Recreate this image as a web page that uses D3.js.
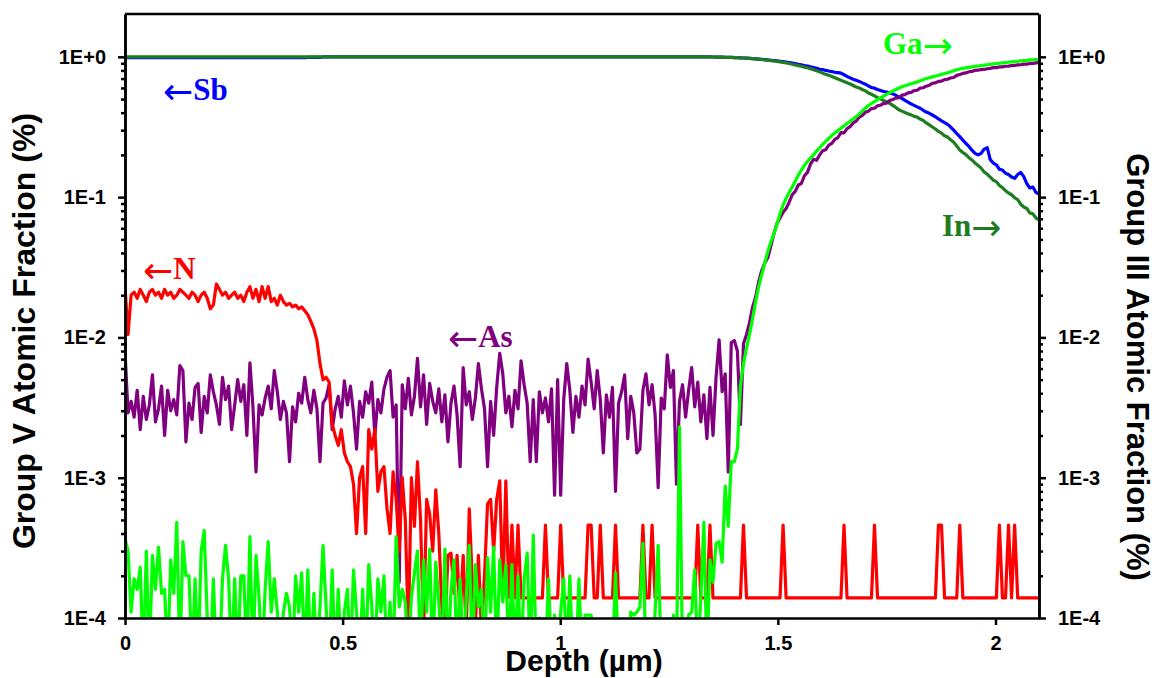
<!DOCTYPE html>
<html>
<head>
<meta charset="utf-8">
<script src="https://cdn.jsdelivr.net/npm/d3@7"></script>
<style>
  body { margin: 0; background: #fff; }
  svg { display: block; }
</style>
</head>
<body>
<svg id="chart" width="1156" height="678"></svg>
<script>
// SIMS depth profile: group V (Sb, As, N) and group III (In, Ga) atomic fractions.
// All series are sampled on the same depth grid, one value every depthStep µm from 0 to 2.1 µm.
const depthStep = 0.007;

const sbFraction = [
  0.985,0.985,0.985,0.985,0.985,0.985,0.985,0.985,0.985,0.985,0.985,0.985,0.985,0.985,0.985,0.985,0.985,0.985,0.985,0.985,
  0.985,0.985,0.985,0.985,0.985,0.985,0.985,0.985,0.985,0.985,0.985,0.985,0.985,0.985,0.985,0.985,0.985,0.985,0.985,0.985,
  0.985,0.985,0.985,0.985,0.985,0.985,0.985,0.985,0.985,0.985,0.985,0.985,0.985,0.985,0.985,0.985,0.985,0.985,0.985,0.985,
  0.99,0.99,0.99,0.99,0.99,1,1,1,1,1,1,1,1,1,1,1,1,1,1,1,
  1,1,1,1,1,1,1,1,1,1,1,1,1,1,1,1,1,1,1,1,
  1,1,1,1,1,1,1,1,1,1,1,1,1,1,1,1,1,1,1,1,
  1,1,1,1,1,1,1,1,1,1,1,1,1,1,1,1,1,1,1,1,
  1,1,1,1,1,1,1,1,1,1,1,1,1,1,1,1,1,1,1,1,
  1,1,1,1,1,1,1,1,1,1,1,1,1,1,1,1,1,1,1,1,
  1,1,1,1,1,1,1,1,1,1,1,1,0.998,0.997,0.996,0.995,0.994,0.993,0.991,0.99,
  0.988,0.986,0.984,0.981,0.978,0.975,0.972,0.968,0.964,0.96,0.955,0.95,0.945,0.94,0.935,0.93,0.925,0.918,0.91,0.902,
  0.895,0.885,0.878,0.868,0.86,0.85,0.84,0.828,0.815,0.81,0.8,0.792,0.785,0.776,0.772,0.765,0.745,0.725,0.708,0.692,
  0.68,0.668,0.652,0.638,0.62,0.605,0.598,0.585,0.576,0.566,0.56,0.553,0.545,0.532,0.516,0.506,0.49,0.476,0.462,0.451,
  0.44,0.43,0.416,0.404,0.396,0.385,0.374,0.361,0.35,0.34,0.33,0.316,0.3,0.284,0.27,0.255,0.242,0.23,0.216,0.205,
  0.2,0.205,0.22,0.225,0.185,0.175,0.17,0.158,0.156,0.148,0.145,0.139,0.136,0.145,0.15,0.14,0.125,0.116,0.118,0.108,
  0.105
];

const inFraction = [
  1,1,1,1,1,1,1,1,1,1,1,1,1,1,1,1,1,1,1,1,
  1,1,1,1,1,1,1,1,1,1,1,1,1,1,1,1,1,1,1,1,
  1,1,1,1,1,1,1,1,1,1,1,1,1,1,1,1,1,1,1,1,
  1,1,1,1,1,1,1,1,1,1,1,1,1,1,1,1,1,1,1,1,
  1,1,1,1,1,1,1,1,1,1,1,1,1,1,1,1,1,1,1,1,
  1,1,1,1,1,1,1,1,1,1,1,1,1,1,1,1,1,1,1,1,
  1,1,1,1,1,1,1,1,1,1,1,1,1,1,1,1,1,1,1,1,
  1,1,1,1,1,1,1,1,1,1,1,1,1,1,1,1,1,1,1,1,
  1,1,1,1,1,1,1,1,1,1,1,1,1,1,1,1,1,1,1,1,
  1,1,1,1,1,1,1,1,1,1,1,1,0.998,0.997,0.996,0.995,0.994,0.993,0.991,0.99,
  0.988,0.986,0.984,0.981,0.978,0.975,0.971,0.967,0.962,0.957,0.952,0.946,0.94,0.934,0.928,0.92,0.913,0.905,0.896,0.886,
  0.876,0.866,0.857,0.845,0.836,0.824,0.81,0.797,0.782,0.765,0.75,0.738,0.724,0.71,0.695,0.682,0.666,0.654,0.64,0.625,
  0.61,0.6,0.585,0.572,0.553,0.541,0.527,0.512,0.502,0.488,0.477,0.466,0.451,0.436,0.42,0.41,0.401,0.392,0.386,0.377,
  0.372,0.36,0.352,0.338,0.327,0.316,0.306,0.294,0.286,0.274,0.268,0.256,0.246,0.231,0.217,0.208,0.201,0.191,0.184,0.175,
  0.168,0.161,0.151,0.146,0.139,0.132,0.129,0.121,0.117,0.111,0.107,0.104,0.099,0.096,0.089,0.085,0.083,0.077,0.076,0.071,
  0.069
];

const asFraction = [
  0.0079,0.0029,0.0035,0.0027,0.0042,0.0022,0.0038,0.0026,0.0033,0.0054,0.0025,0.0031,0.0045,0.002,0.0042,0.003,0.0036,0.0028,0.0063,0.0058,
  0.0018,0.0034,0.0026,0.0044,0.0047,0.0021,0.0038,0.0029,0.0054,0.0041,0.0033,0.0024,0.0052,0.0036,0.0045,0.0022,0.0033,0.005,0.0035,0.0046,
  0.002,0.0066,0.0032,0.0011,0.0033,0.0028,0.0037,0.0045,0.0031,0.0058,0.0041,0.0026,0.0035,0.0029,0.0013,0.0032,0.0025,0.004,0.0034,0.0052,
  0.0036,0.0029,0.0042,0.0031,0.0013,0.0034,0.0037,0.0046,0.0022,0.0031,0.0038,0.0027,0.0049,0.0033,0.0045,0.0029,0.0016,0.0035,0.0027,0.0041,
  0.0034,0.0048,0.002,0.0036,0.0029,0.0043,0.0052,0.0058,0.0027,0.0033,0.00018,0.0046,0.0031,0.0051,0.0028,0.0038,0.0071,0.0032,0.0054,0.0024,
  0.0047,0.0035,0.0029,0.0043,0.0025,0.0039,0.0018,0.0034,0.0045,0.0028,0.0012,0.0061,0.0033,0.0041,0.0026,0.0037,0.0065,0.0043,0.0031,0.0012,
  0.0035,0.002,0.0044,0.0077,0.0055,0.0029,0.0038,0.0023,0.0042,0.0031,0.0068,0.0046,0.0034,0.0013,0.0036,0.0013,0.0041,0.0029,0.0037,0.0025,
  0.0043,0.00075,0.005,0.00075,0.0036,0.0065,0.0042,0.0021,0.0038,0.0027,0.0045,0.0033,0.007,0.0048,0.0031,0.0058,0.0036,0.0015,0.0039,0.0027,
  0.0044,0.0008,0.0034,0.0041,0.0054,0.0019,0.0038,0.0029,0.0015,0.0016,0.0042,0.0055,0.0033,0.0046,0.0028,0.00085,0.0037,0.0031,0.0075,0.0044,
  0.0058,0.0009,0.0035,0.0046,0.0027,0.0042,0.0061,0.0032,0.0048,0.0025,0.0039,0.0019,0.0044,0.002,0.0052,0.0096,0.0041,0.0055,0.0011,0.0092,
  0.0095,0.008,0.0024,0.009,0.0105,0.0128,0.0165,0.0194,0.025,0.03,0.034,0.037,0.045,0.055,0.065,0.071,0.078,0.083,0.092,0.104,
  0.11,0.122,0.125,0.142,0.15,0.172,0.186,0.183,0.2,0.214,0.218,0.235,0.242,0.258,0.266,0.288,0.287,0.308,0.318,0.338,
  0.348,0.372,0.382,0.402,0.41,0.428,0.43,0.448,0.452,0.465,0.468,0.488,0.497,0.508,0.512,0.533,0.538,0.553,0.558,0.575,
  0.578,0.598,0.602,0.618,0.628,0.648,0.652,0.668,0.672,0.688,0.692,0.708,0.712,0.738,0.748,0.762,0.768,0.783,0.787,0.802,
  0.803,0.812,0.813,0.822,0.828,0.837,0.838,0.847,0.848,0.857,0.858,0.867,0.868,0.877,0.878,0.887,0.888,0.897,0.898,0.906,
  0.91
];

// Values under 1E-4 (no counts) fall below the axis and are clipped away.
const nFraction = [
  0.023,0.0105,0.02,0.021,0.019,0.022,0.02,0.018,0.021,0.022,0.02,0.021,0.019,0.022,0.02,0.021,0.019,0.02,0.022,0.021,
  0.02,0.019,0.021,0.02,0.018,0.02,0.021,0.019,0.016,0.017,0.024,0.022,0.02,0.021,0.019,0.02,0.021,0.019,0.02,0.018,
  0.021,0.023,0.019,0.022,0.018,0.023,0.019,0.023,0.018,0.019,0.017,0.02,0.018,0.017,0.0175,0.0165,0.017,0.016,0.0165,0.0155,
  0.0145,0.013,0.0115,0.0095,0.0065,0.005,0.0052,0.0048,0.0024,0.002,0.0017,0.0022,0.0015,0.0013,0.0012,0.0009,0.0004,0.001,0.0012,0.0004,
  0.0022,0.0016,0.0022,0.0008,0.0011,0.0012,0.0006,0.0004,0.0011,0.0007,0.0003,0.001,0.0005,0.00008,0.001,0.00045,0.0013,0.0005,0.00008,0.0007,
  0.00055,0.0003,0.00082,0.0004,0.00012,0.00008,0.00028,0.00029,0.00015,0.00028,0.0001,0.00028,0.00008,0.0006,0.00018,0.00009,0.00028,0.00008,0.0002,0.00065,
  0.0007,0.0003,0.0007,0.00095,0.00014,0.00095,0.00014,4.6e-4,1.39e-4,4.6e-4,1.39e-4,1.39e-4,1.39e-4,1.39e-4,1.39e-4,1.39e-4,1.39e-4,1.39e-4,4.6e-4,1.39e-4,
  1.39e-4,1.39e-4,1.39e-4,4.6e-4,1.39e-4,1.39e-4,1.39e-4,1.39e-4,1.39e-4,1.39e-4,1.39e-4,1.39e-4,4.6e-4,4.6e-4,1.39e-4,1.39e-4,4.6e-4,1.39e-4,1.39e-4,1.39e-4,
  1.39e-4,4.6e-4,1.39e-4,1.39e-4,1.39e-4,1.39e-4,1.39e-4,1.39e-4,1.39e-4,1.39e-4,4.6e-4,1.39e-4,1.39e-4,4.6e-4,1.39e-4,1.39e-4,1.39e-4,1.39e-4,1.39e-4,1.39e-4,
  1.39e-4,1.39e-4,1.39e-4,1.39e-4,1.39e-4,1.39e-4,1.39e-4,1.39e-4,4.6e-4,1.39e-4,1.39e-4,1.39e-4,4.6e-4,1.39e-4,1.39e-4,1.39e-4,1.39e-4,1.39e-4,1.39e-4,1.39e-4,
  1.39e-4,1.39e-4,1.39e-4,4.6e-4,1.39e-4,1.39e-4,1.39e-4,1.39e-4,1.39e-4,1.39e-4,1.39e-4,1.39e-4,1.39e-4,1.39e-4,1.39e-4,1.39e-4,4.6e-4,1.39e-4,1.39e-4,1.39e-4,
  1.39e-4,1.39e-4,1.39e-4,1.39e-4,1.39e-4,1.39e-4,1.39e-4,1.39e-4,1.39e-4,1.39e-4,1.39e-4,1.39e-4,1.39e-4,1.39e-4,1.39e-4,1.39e-4,4.6e-4,1.39e-4,1.39e-4,1.39e-4,
  1.39e-4,1.39e-4,1.39e-4,1.39e-4,1.39e-4,1.39e-4,4.6e-4,1.39e-4,1.39e-4,1.39e-4,1.39e-4,1.39e-4,1.39e-4,1.39e-4,1.39e-4,1.39e-4,1.39e-4,1.39e-4,1.39e-4,1.39e-4,
  1.39e-4,1.39e-4,1.39e-4,1.39e-4,1.39e-4,1.39e-4,1.39e-4,4.6e-4,4.6e-4,1.39e-4,1.39e-4,1.39e-4,1.39e-4,1.39e-4,4.6e-4,1.39e-4,1.39e-4,1.39e-4,1.39e-4,1.39e-4,
  1.39e-4,1.39e-4,1.39e-4,1.39e-4,1.39e-4,1.39e-4,1.39e-4,4.6e-4,1.39e-4,1.39e-4,4.6e-4,1.39e-4,4.6e-4,1.39e-4,1.39e-4,1.39e-4,1.39e-4,1.39e-4,1.39e-4,1.39e-4,
  1.39e-4
];

const gaFraction = [
  3.7e-4,3.0e-4,1.1e-4,1.9e-4,1.6e-4,2.3e-4,5e-5,3e-4,5e-5,2.8e-4,1.6e-4,3.2e-4,1.5e-4,1.6e-4,5e-5,2.6e-4,1.5e-4,4.8e-4,5e-5,3.5e-4,
  2e-4,2e-4,5e-5,1.9e-4,5e-5,3e-4,4.2e-4,1e-4,5e-5,1.9e-4,5e-5,5e-5,1.9e-4,3.3e-4,1.9e-4,5e-5,1.9e-4,5e-5,2e-4,2e-4,
  5e-5,3.8e-4,5e-5,2.8e-4,1.4e-4,5e-5,1.6e-4,3.5e-4,1.1e-4,1.9e-4,1.1e-4,5e-5,1.1e-4,1.5e-4,1.2e-4,5e-5,2e-4,1.1e-4,2.1e-4,5e-5,
  2.2e-4,5e-5,1.5e-4,5e-5,1.2e-4,3.3e-4,1.2e-4,5e-5,2.2e-4,5e-5,1.6e-4,5e-5,1.1e-4,1.6e-4,5e-5,2.2e-4,1.1e-4,5e-5,1.6e-4,5e-5,
  2.4e-4,1.2e-4,5e-5,1.9e-4,1.1e-4,2e-4,5e-5,1.3e-4,5e-5,3.8e-4,1.2e-4,1.6e-4,1.3e-4,5e-5,1.4e-4,2.1e-4,3e-4,5e-5,2.6e-4,1.1e-4,
  3.1e-4,5e-5,2.5e-4,1.3e-4,5e-5,3.1e-4,5e-5,1.6e-4,2.6e-4,5e-5,1.9e-4,5e-5,1.4e-4,3.3e-4,5e-5,2.4e-4,1.2e-4,1.6e-4,5e-5,2.7e-4,
  1.1e-4,3.2e-4,5e-5,2.6e-4,1.3e-4,2.4e-4,5e-5,2.4e-4,5e-5,2e-4,5e-5,1.9e-4,2.9e-4,5e-5,3.9e-4,5e-5,1e-4,5e-5,5e-5,1.9e-4,
  5e-5,1.05e-4,5e-5,1.1e-4,1.9e-4,5e-5,2e-4,5e-5,5e-5,1.9e-4,5e-5,1.05e-4,1.05e-4,1.05e-4,5e-5,5e-5,5e-5,5e-5,5e-5,5e-5,
  5e-5,2.1e-4,5e-5,5e-5,5e-5,5e-5,1.1e-4,1.05e-4,1.1e-4,1.2e-4,3.4e-4,5e-5,5e-5,5e-5,1.1e-4,3.3e-4,5e-5,5e-5,5e-5,5e-5,
  1.05e-4,5e-5,2.3e-3,5e-5,5e-5,1.05e-4,1.1e-4,2.2e-4,5e-5,1.4e-4,4.8e-4,5e-5,2.6e-4,1.8e-4,3.4e-4,3.5e-4,2.5e-4,8.7e-4,4.5e-4,1.3e-3,
  1.3e-3,1.6e-3,4.5e-3,6.5e-3,8.4e-3,1.05e-2,1.37e-2,1.8e-2,2.3e-2,2.8e-2,3.4e-2,4.1e-2,4.8e-2,5.5e-2,6.4e-2,7.6e-2,8.8e-2,9.8e-2,0.108,0.118,
  0.13,0.143,0.156,0.168,0.18,0.19,0.2,0.213,0.225,0.238,0.25,0.262,0.275,0.287,0.298,0.31,0.322,0.335,0.348,0.36,
  0.375,0.39,0.41,0.43,0.45,0.465,0.48,0.495,0.51,0.525,0.54,0.555,0.57,0.585,0.6,0.612,0.622,0.632,0.642,0.652,
  0.662,0.675,0.687,0.7,0.71,0.72,0.73,0.74,0.75,0.76,0.77,0.782,0.795,0.808,0.82,0.828,0.835,0.842,0.848,0.854,
  0.86,0.866,0.872,0.878,0.884,0.89,0.895,0.9,0.905,0.91,0.915,0.92,0.925,0.93,0.935,0.94,0.945,0.95,0.953,0.957,
  0.96
];

const yTickValues = [1e-4, 1e-3, 1e-2, 1e-1, 1];
const yTickLabels = ["1E-4", "1E-3", "1E-2", "1E-1", "1E+0"];
const xTickValues = [0, 0.5, 1, 1.5, 2];
const xTickLabels = ["0", "0.5", "1", "1.5", "2"];

const seriesNames = ["Sb", "In", "As", "N", "Ga"];
const seriesColors = ["#0000ff", "#1e7d1e", "#800080", "#ff0000", "#00ff00"];
const seriesData = [sbFraction, inFraction, asFraction, nFraction, gaFraction];

// ---- layout ----
const plot = { left: 125, right: 1039, top: 14, bottom: 618 };
const svg = d3.select("#chart");

const x = d3.scaleLinear().domain([0, 2.1]).range([plot.left, plot.right]);
const y = d3.scaleLog().domain([1e-4, 2.02]).range([plot.bottom, plot.top]);

svg.append("defs").append("clipPath").attr("id", "plot-clip")
  .append("rect")
  .attr("x", plot.left).attr("y", plot.top)
  .attr("width", plot.right - plot.left).attr("height", plot.bottom - plot.top);

// ---- profiles ----
const line = d3.line()
  .x(d => x(d[0]))
  .y(d => y(d[1]));

const lines = svg.append("g").attr("clip-path", "url(#plot-clip)");
seriesData.forEach((values, k) => {
  const pts = values.map((v, i) => [i * depthStep, v]);
  lines.append("path")
    .datum(pts)
    .attr("d", line)
    .attr("fill", "none")
    .attr("stroke", seriesColors[k])
    .attr("stroke-width", 3.2)
    .attr("stroke-linejoin", "round")
    .attr("stroke-linecap", "round");
});

// ---- axes ----
const minorTicks = [];
[1e-4, 1e-3, 1e-2, 1e-1].forEach(dec => {
  for (let m = 2; m <= 9; m++) minorTicks.push(m * dec);
});

const tickFont = g => g.selectAll("text")
  .attr("font-family", "'Liberation Sans', Arial, sans-serif")
  .attr("font-weight", "bold")
  .attr("font-size", 20)
  .attr("fill", "#000");

const styleAxis = g => {
  g.select(".domain").attr("stroke", "#000").attr("stroke-width", 2.5);
  g.selectAll(".tick line").attr("stroke", "#000").attr("stroke-width", 2.5);
};

function yAxes(axisFn, xpos) {
  svg.append("g")
    .attr("transform", `translate(${xpos},0)`)
    .call(axisFn(y).tickValues(minorTicks).tickFormat("").tickSize(4).tickSizeOuter(0))
    .call(styleAxis);
  svg.append("g")
    .attr("transform", `translate(${xpos},0)`)
    .call(axisFn(y).tickValues(yTickValues)
      .tickFormat((d, i) => yTickLabels[i])
      .tickSize(7).tickPadding(12).tickSizeOuter(0))
    .call(styleAxis)
    .call(tickFont);
}
yAxes(d3.axisLeft, plot.left);
yAxes(d3.axisRight, plot.right);

svg.append("g")
  .attr("transform", `translate(0,${plot.bottom})`)
  .call(d3.axisBottom(x).tickValues(xTickValues)
    .tickFormat((d, i) => xTickLabels[i])
    .tickSize(7).tickPadding(11).tickSizeOuter(0))
  .call(styleAxis)
  .call(tickFont);

// top frame edge
svg.append("line")
  .attr("x1", plot.left).attr("x2", plot.right)
  .attr("y1", plot.top).attr("y2", plot.top)
  .attr("stroke", "#000").attr("stroke-width", 2.5);

// ---- axis titles ----
const titleFont = (sel, size) => sel
  .attr("font-family", "'Liberation Sans', Arial, sans-serif")
  .attr("font-weight", "bold")
  .attr("font-size", size)
  .attr("fill", "#000")
  .attr("text-anchor", "middle");

svg.append("text")
  .attr("transform", "translate(35,331) rotate(-90)")
  .text("Group V Atomic Fraction (%)")
  .call(titleFont, 32);

svg.append("text")
  .attr("transform", "translate(1127,367) rotate(90)")
  .text("Group III Atomic Fraction (%)")
  .call(titleFont, 31);

svg.append("text")
  .attr("x", 584).attr("y", 671)
  .text("Depth (\u00b5m)")
  .call(titleFont, 30);

// ---- series labels: element name with an arrow pointing to its axis ----
const seriesLabels = [
  { name: "Sb", arrow: "\u2190", before: true,  color: seriesColors[0], x: 163, y: 100 },
  { name: "N",  arrow: "\u2190", before: true,  color: seriesColors[3], x: 143, y: 279 },
  { name: "As", arrow: "\u2190", before: true,  color: seriesColors[2], x: 448, y: 347 },
  { name: "Ga", arrow: "\u2192", before: false, color: seriesColors[4], x: 883, y: 54 },
  { name: "In", arrow: "\u2192", before: false, color: seriesColors[1], x: 942, y: 236 }
];
svg.append("g").selectAll("text")
  .data(seriesLabels)
  .join("text")
  .attr("x", d => d.x).attr("y", d => d.y)
  .attr("fill", d => d.color)
  .attr("font-family", "'Liberation Serif', 'Times New Roman', serif")
  .attr("font-weight", "bold")
  .attr("font-size", 31)
  .each(function (d) {
    const t = d3.select(this);
    const addArrow = () => t.append("tspan")
      .attr("font-family", "'DejaVu Sans', sans-serif")
      .attr("font-weight", "normal")
      .attr("font-size", 36)
      .attr("dy", 4)
      .text(d.arrow);
    if (d.before) {
      addArrow();
      t.append("tspan").attr("dy", -4).text(d.name);
    } else {
      t.append("tspan").text(d.name);
      addArrow();
    }
  });
</script>
</body>
</html>
